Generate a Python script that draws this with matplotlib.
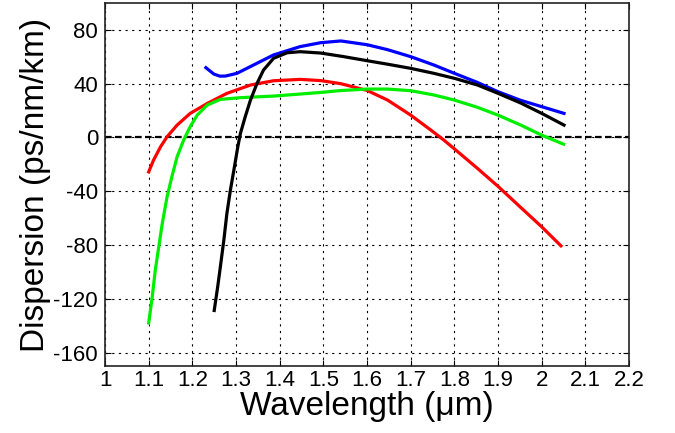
import numpy as np
import matplotlib
matplotlib.use("Agg")
import matplotlib.pyplot as plt

plt.rcParams['font.family'] = ['Liberation Sans', 'DejaVu Sans']
plt.rcParams['axes.unicode_minus'] = False

# dispersion curves (wavelength in um, ps/nm/km)
blue_x = [1.231, 1.249, 1.263, 1.276, 1.302, 1.34, 1.386, 1.447, 1.494, 1.54, 1.6, 1.647,
          1.7, 1.753, 1.8, 1.853, 1.9, 1.952, 2.0, 2.051]
blue_y = [51.9, 47.2, 45.6, 45.7, 47.7, 53.9, 61.4, 67.6, 70.5, 71.8, 69.0, 65.3,
          60.1, 53.9, 47.7, 40.9, 34.0, 27.6, 22.9, 17.9]

black_x = [1.250, 1.258, 1.264, 1.272, 1.279, 1.287, 1.295, 1.304, 1.310, 1.321, 1.333,
           1.348, 1.363, 1.386, 1.417, 1.447, 1.494, 1.547, 1.6, 1.647, 1.7, 1.753,
           1.8, 1.853, 1.9, 1.952, 2.0, 2.051]
black_y = [-128.7, -111.0, -96.4, -76.5, -56.6, -39.3, -24.3, -7.0, 3.0, 15.4, 27.8,
           40.2, 50.2, 58.9, 63.0, 63.8, 62.8, 60.1, 57.1, 54.5, 51.4, 47.7,
           44.0, 39.0, 32.8, 25.6, 17.9, 9.2]

red_x = [1.1, 1.111, 1.127, 1.142, 1.165, 1.195, 1.234, 1.279, 1.333, 1.386, 1.447,
         1.494, 1.54, 1.6, 1.647, 1.7, 1.746, 1.776, 1.8, 1.851, 1.9, 1.95,
         2.0, 2.044]
red_y = [-25.6, -16.9, -7.0, 0.5, 9.2, 17.9, 25.3, 32.8, 39.0, 42.2, 43.2,
         42.3, 40.0, 35.0, 27.8, 16.6, 5.5, -2.0, -8.5, -22.5, -36.4, -51.5,
         -66.5, -80.6]

green_x = [1.1, 1.108, 1.115, 1.123, 1.131, 1.142, 1.153, 1.165, 1.18, 1.195, 1.211,
           1.234, 1.264, 1.31, 1.386, 1.447, 1.494, 1.54, 1.6, 1.647, 1.7, 1.753,
           1.8, 1.853, 1.9, 1.952, 2.0, 2.05]
green_y = [-138.0, -118.8, -98.9, -81.5, -64.1, -44.2, -29.3, -14.4, -2.0, 8.0, 16.6,
           24.1, 28.3, 29.6, 30.8, 32.3, 33.5, 34.9, 36.0, 36.0, 34.8, 31.6,
           27.8, 22.4, 16.6, 9.2, 1.7, -5.0]

x_ticks = [1, 1.1, 1.2, 1.3, 1.4, 1.5, 1.6, 1.7, 1.8, 1.9, 2, 2.1, 2.2]
x_labels = ['1', '1.1', '1.2', '1.3', '1.4', '1.5', '1.6', '1.7', '1.8', '1.9', '2', '2.1', '2.2']
y_ticks = [-160, -120, -80, -40, 0, 40, 80]

fig = plt.figure(figsize=(6.75, 4.33), dpi=100)
ax = fig.add_axes([0.1556, 0.1547, 0.7764, 0.8383])

ax.grid(True, color='black', linestyle=(0, (2, 4)), linewidth=0.8)
ax.axhline(0, color='black', linestyle=(0, (3, 1.5)), linewidth=1.6, zorder=1.5)

lw = 2.3
ax.plot(blue_x, blue_y, color='#0000ff', lw=lw)
ax.plot(red_x, red_y, color='#ff0000', lw=lw)
ax.plot(green_x, green_y, color='#00ee00', lw=lw)
ax.plot(black_x, black_y, color='black', lw=lw)

ax.set_xlim(1, 2.2)
ax.set_ylim(-170, 100)
ax.set_xticks(x_ticks)
ax.set_xticklabels(x_labels)
ax.set_yticks(y_ticks)
ax.tick_params(direction='in', length=4, width=0.8, labelsize=16,
               top=True, right=True, color='black')
ax.tick_params(axis='y', pad=5)
ax.tick_params(axis='x', pad=3)
for s in ax.spines.values():
    s.set_linewidth(1.2)
    s.set_color('#222222')

ax.set_xlabel('Wavelength (μm)', fontsize=24, labelpad=0)
ax.set_ylabel('Dispersion (ps/nm/km)', fontsize=24, labelpad=2)

fig.savefig('out.png', dpi=100)
